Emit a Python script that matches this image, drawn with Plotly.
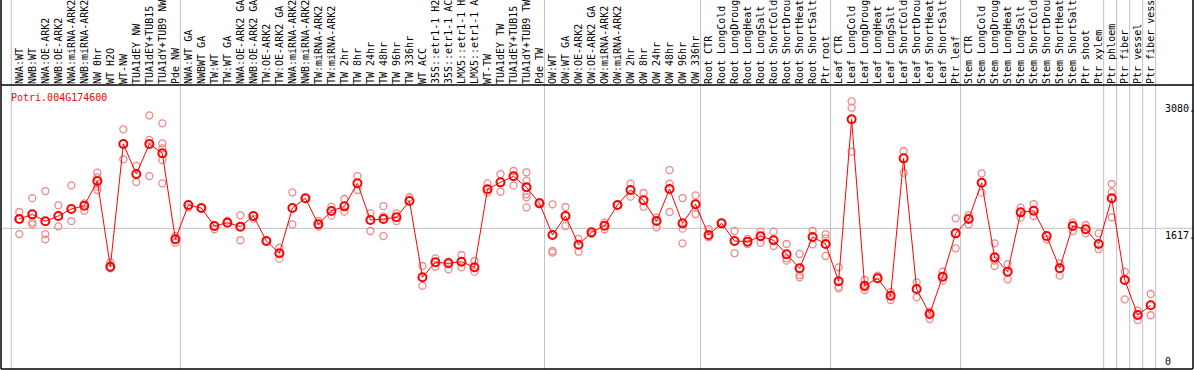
import plotly.graph_objects as go

labels = ["NWA:WT", "NWB:WT", "NWA:OE-ARK2", "NWB:OE-ARK2", "NWA:miRNA-ARK2", "NWB:miRNA-ARK2",
          "NW 0hr", "WT H2O", "WT-NW", "TUA1dEY NW", "TUA1dEY+TUB15", "TUA1dY+TUB9 NW", "Pde NW",
          "NWA:WT GA", "NWBWT GA", "TW:WT", "TW:WT GA", "NWA:OE-ARK2 GA", "NWB:OE-ARK2 GA",
          "TW:OE-ARK2", "TW:OE-ARK2 GA", "NWA:miRNA-ARK2", "NWB:miRNA-ARK2", "TW:miRNA-ARK2",
          "TW:miRNA-ARK2", "TW 2hr", "TW 8hr", "TW 24hr", "TW 48hr", "TW 96hr", "TW 336hr", "WT ACC",
          "35S::etr1-1 H2O", "35S::etr1-1 ACC", "LMX5::etr1-1 H2O", "LMX5::etr1-1 ACC", "WT-TW",
          "TUA1dEY TW", "TUA1dEY+TUB15", "TUA1dY+TUB9 TW", "Pde TW",
          "OW:WT", "OW:WT GA", "OW:OE-ARK2", "OW:OE-ARK2 GA", "OW:miRNA-ARK2", "OW:miRNA-ARK2",
          "OW 2hr", "OW 8hr", "OW 24hr", "OW 48hr", "OW 96hr", "OW 336hr",
          "Root CTR", "Root LongCold", "Root LongDrought", "Root LongHeat", "Root LongSalt",
          "Root ShortCold", "Root ShortDrought", "Root ShortHeat", "Root ShortSalt", "Ptr root",
          "Leaf CTR", "Leaf LongCold", "Leaf LongDrought", "Leaf LongHeat", "Leaf LongSalt",
          "Leaf ShortCold", "Leaf ShortDrought", "Leaf ShortHeat", "Leaf ShortSalt", "Ptr leaf",
          "Stem CTR", "Stem LongCold", "Stem LongDrought", "Stem LongHeat", "Stem LongSalt",
          "Stem ShortCold", "Stem ShortDrought", "Stem ShortHeat", "Stem ShortSalt", "Ptr shoot",
          "Ptr xylem", "Ptr phloem", "Ptr fiber", "Ptr vessel", "Ptr fiber vessel"]

means = [1724, 1778, 1698, 1759, 1840, 1878, 2163, 1174, 2589, 2243, 2589, 2482, 1490,
         1886, 1851, 1644, 1682, 1636, 1759, 1471, 1329, 1851, 1963, 1663, 1817, 1870, 2136,
         1713, 1724, 1744, 1932, 1052, 1225, 1213, 1232, 1167, 2067, 2147, 2217, 2090, 1905,
         1540, 1759, 1428, 1571, 1647, 1886, 2059, 1940, 1701, 2070, 1674, 1894,
         1540, 1674, 1471, 1463, 1525, 1479, 1317, 1156, 1517, 1436,
         1006, 2874, 955, 1040, 840, 2424, 917, 629, 1059, 1559,
         1724, 2143, 1282, 1117, 1801, 1820, 1528, 1156, 1644, 1606, 1436,
         1963, 1021, 617, 729]

replicates = [
    [1805, 1551, 1724], [1965, 1686, 1663], [2047, 1551, 1490], [1882, 1640], [2113, 1701],
    [1905, 1820], [2259, 2205, 2059, 2097], [1225, 1156], [2759, 2413], [2336, 2151],
    [2920, 2636, 2220], [2828, 2597, 2405, 2136, 2540], [1528, 1451],
    [1859], [1851], [1606], [1705], [1767, 1479], [1728], [1471], [1394, 1267], [2032, 1663],
    [1963], [1701, 1636], [1866, 1763], [1955, 1809], [2220, 2059], [1790, 1586],
    [1874, 1528, 1751], [1701, 1790], [1975], [1182, 955], [1271, 1174], [1144, 1232],
    [1309, 1167], [1240, 1117], [2136, 2028], [2243, 2039], [2278, 2109],
    [2263, 2166, 1975, 1859, 2009], [1920],
    [1894, 1355, 1336], [1863, 1644], [1494, 1347], [1551], [1686, 1606], [1886],
    [2132, 1982], [2024, 1866], [1740, 1629], [2289, 2132, 1805], [1966, 1613, 1444],
    [1997, 1782],
    [1606, 1513], [1682], [1586, 1329], [1494, 1436], [1578, 1451], [1578, 1413],
    [1436, 1244, 1271], [1321, 1078, 1052], [1586, 1432], [1548, 1502, 1298],
    [1167, 925, 944], [3080, 3008, 2501], [1021, 905, 936], [1071], [882, 790],
    [2509, 2259], [994, 821], [571, 655], [1117, 1013], [1732, 1386],
    [1767, 1663], [2251, 2028], [1444, 1182, 1244], [1205, 1029], [1855, 1740],
    [1897, 1759], [1490], [1213, 1071], [1682, 1586], [1655, 1559], [1559, 1375],
    [2128, 2032, 1744], [1117, 798], [667, 559], [859, 614],
]

gene_name = "Potri.004G174600"
y_ticks = [3080, 1617, 0]
group_bounds = [-0.62, 12.38, 40.38, 52.38, 62.38, 72.38, 83.38, 84.38, 85.38, 86.38, 87.38]

xs = list(range(len(labels)))
rep_x, rep_y = [], []
for i, reps in enumerate(replicates):
    for v in reps:
        rep_x.append(i)
        rep_y.append(v)

MONO = "DejaVu Sans Mono"
fig = go.Figure()
fig.add_trace(go.Scatter(
    x=rep_x, y=rep_y, mode="markers",
    marker=dict(symbol="circle-open", size=7, color="#ee8888", line=dict(width=1.3, color="#ee8888")),
    hoverinfo="skip", showlegend=False, cliponaxis=False))
fig.add_trace(go.Scatter(
    x=xs, y=means, mode="lines+markers",
    line=dict(color="red", width=1),
    marker=dict(symbol="circle-open", size=8, color="red", line=dict(width=2, color="red")),
    showlegend=False, cliponaxis=False))

shapes = []
top_paper = 1 + 85 / 284
for b in group_bounds:
    shapes.append(dict(type="line", xref="x", yref="paper", x0=b, x1=b, y0=0, y1=top_paper,
                       line=dict(color="#c0c0c0", width=1), layer="below"))
shapes.append(dict(type="line", xref="paper", yref="y", x0=0, x1=1, y0=y_ticks[1], y1=y_ticks[1],
                   line=dict(color="#c0c0c0", width=1), layer="below"))
for (x0, y0, x1, y1) in [(0, 0, 0, top_paper), (1, 0, 1, top_paper), (0, 1, 1, 1), (0, 0, 1, 0)]:
    shapes.append(dict(type="line", xref="paper", yref="paper", x0=x0, x1=x1, y0=y0, y1=y1,
                       line=dict(color="black", width=1.5)))

annotations = [dict(text=gene_name, xref="paper", yref="paper", x=0.0065, y=1 - 5 / 284,
                    xanchor="left", yanchor="top", showarrow=False,
                    font=dict(family=MONO, size=10, color="red"))]
for t in y_ticks:
    annotations.append(dict(text=f"{t}." if t else "0", xref="paper", yref="y", x=0.9745, y=t,
                            xanchor="left", yanchor="bottom" if t == 0 else "top",
                            showarrow=False, font=dict(family=MONO, size=10, color="black")))

fig.update_layout(
    width=1194, height=370, margin=dict(l=1, r=1, t=85, b=1, autoexpand=False),
    paper_bgcolor="white", plot_bgcolor="white",
    xaxis=dict(range=[-1.407, 90.25], side="top", tickmode="array", tickvals=xs, ticktext=labels,
               tickangle=-90, tickfont=dict(family=MONO, size=10, color="black"), ticks="",
               showgrid=False, zeroline=False, showline=False, automargin=False, fixedrange=True),
    yaxis=dict(range=[-5.8, 3270], showticklabels=False, showgrid=False, zeroline=False,
               showline=False, ticks="", fixedrange=True),
    shapes=shapes, annotations=annotations,
)
fig.write_html("out.html", config={"displayModeBar": False},
               post_script="document.body.style.margin='0';document.body.style.overflow='hidden';")
